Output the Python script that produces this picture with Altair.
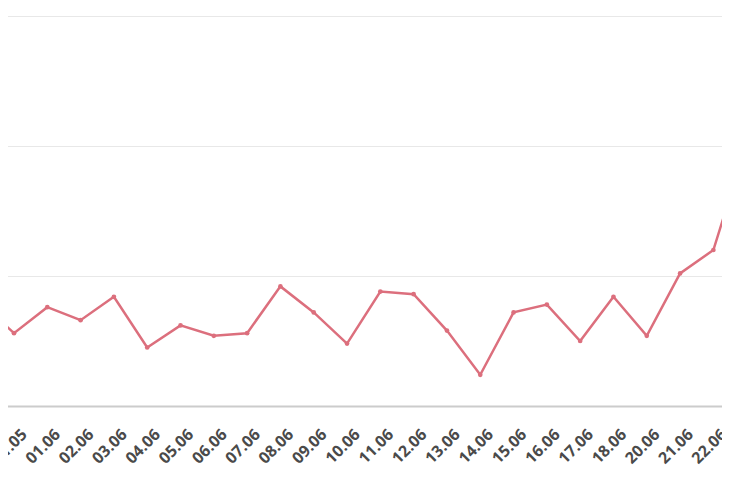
import altair as alt
import pandas as pd

dates = ["30.05", "31.05", "01.06", "02.06", "03.06", "04.06", "05.06", "06.06",
         "07.06", "08.06", "09.06", "10.06", "11.06", "12.06", "13.06", "14.06",
         "15.06", "16.06", "17.06", "18.06", "20.06", "21.06", "22.06", "23.06"]
values = [80, 56, 76, 66, 84, 45, 62, 54, 56, 92, 72, 48, 88, 86, 58, 24,
          72, 78, 50, 84, 54, 102, 120, 202]
grid_values = [0, 100, 200, 300]

df = pd.DataFrame({"i": list(range(len(dates))), "date": dates, "value": values})

label_map = "{" + ",".join(f"'{k}':'{d}'" for k, d in enumerate(dates)) + "}"

x = alt.X(
    "i:Q",
    scale=alt.Scale(domain=[0.58, 23.4], nice=False, zero=False),
    axis=alt.Axis(
        values=list(range(len(dates))),
        labelExpr=f"{label_map}[datum.value]",
        title=None,
        grid=False,
        ticks=False,
        tickSize=0,
        labelAngle=-45,
        labelAlign="right",
        labelBaseline="middle",
        labelPadding=25.5,
        labelOffset=10,
        labelOverlap=False,
        labelBound=False,
        labelFlush=False,
        labelFont="Open Sans",
        labelFontWeight="bold",
        labelFontSize=16,
        labelColor="#4a4a4a",
        domainColor="#cccccc",
        domainWidth=2,
    ),
)
y = alt.Y(
    "value:Q",
    scale=alt.Scale(domain=[0, 300], nice=False),
    axis=alt.Axis(
        values=grid_values,
        title=None,
        labels=False,
        ticks=False,
        domain=False,
        grid=True,
        gridColor="#e8e8e8",
        gridWidth=1,
    ),
)

color = "#dc6f7d"
line = alt.Chart(df).mark_line(color=color, strokeWidth=2.5, clip=True).encode(x=x, y=y)
pts = alt.Chart(df).mark_circle(color=color, size=22, opacity=1, clip=True).encode(x=x, y=y)

chart = (
    alt.layer(line, pts)
    .properties(
        width=760,
        height=390,
        padding={"left": -8, "top": 8, "right": -38, "bottom": 87},
        autosize=alt.AutoSizeParams(type="none"),
        background="white",
    )
    .configure_view(stroke=None)
)

chart.save("out.html", embed_options={"renderer": "svg", "actions": False})
